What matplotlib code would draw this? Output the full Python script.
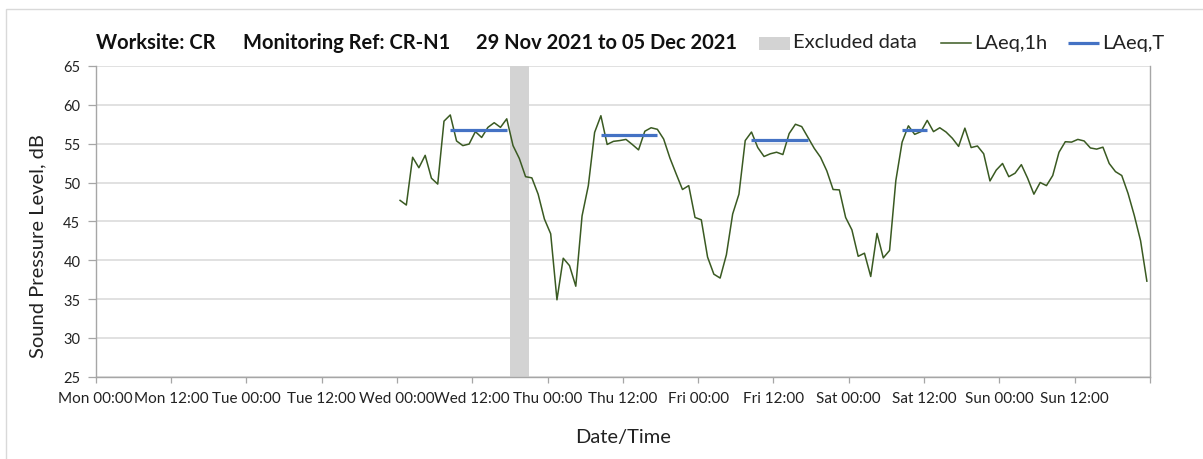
import matplotlib
matplotlib.use("Agg")
import matplotlib.pyplot as plt
import matplotlib.dates as mdates
import pandas as pd
from matplotlib.patches import Rectangle
from matplotlib.lines import Line2D

plt.rcParams['font.family'] = ['Lato', 'DejaVu Sans']

# Hourly LAeq,1h readings (dB), first reading at 01 Dec 2021 00:30
first_reading = "2021-12-01 00:30"
laeq_1h = [
    47.7, 47.1, 53.25, 51.9, 53.5, 50.55, 49.8, 57.9, 58.7, 55.35,
    54.75, 54.95, 56.55, 55.8, 57.1, 57.7, 57.1, 58.2, 54.75, 53.1,
    50.75, 50.6, 48.5, 45.3, 43.4, 34.9, 40.25, 39.3, 36.65, 45.7,
    49.6, 56.45, 58.6, 54.9, 55.3, 55.4, 55.55, 54.9, 54.2, 56.6,
    57.05, 56.85, 55.6, 53.15, 51.1, 49.1, 49.6, 45.5, 45.2, 40.4,
    38.2, 37.7, 40.7, 45.95, 48.5, 55.4, 56.5, 54.5, 53.35, 53.7,
    53.9, 53.6, 56.3, 57.5, 57.2, 55.8, 54.4, 53.25, 51.5, 49.1,
    49.05, 45.5, 43.9, 40.5, 40.9, 37.9, 43.45, 40.3, 41.25, 50.25,
    55.2, 57.3, 56.2, 56.55, 58.0, 56.55, 57.05, 56.5, 55.7, 54.65,
    57.0, 54.5, 54.7, 53.7, 50.2, 51.6, 52.45, 50.75, 51.2, 52.3,
    50.55, 48.5, 50.0, 49.6, 50.9, 53.9, 55.25, 55.2, 55.55, 55.35,
    54.45, 54.3, 54.55, 52.45, 51.4, 50.9, 48.6, 45.75, 42.5, 37.3,
]

# LAeq,T over the working periods
laeq_t_start = ["2021-12-01 08:30", "2021-12-02 08:30", "2021-12-03 08:30", "2021-12-04 08:30"]
laeq_t_end = ["2021-12-01 17:30", "2021-12-02 17:30", "2021-12-03 17:30", "2021-12-04 12:30"]
laeq_t = [56.8, 56.1, 55.5, 56.7]

# Excluded data window
excluded_start = "2021-12-01 18:00"
excluded_end = "2021-12-01 21:00"

# Axis ranges and labels
period_start = "2021-11-29 00:00"
period_end = "2021-12-06 00:00"
tick_labels = ["Mon 00:00", "Mon 12:00", "Tue 00:00", "Tue 12:00", "Wed 00:00",
               "Wed 12:00", "Thu 00:00", "Thu 12:00", "Fri 00:00", "Fri 12:00",
               "Sat 00:00", "Sat 12:00", "Sun 00:00", "Sun 12:00", ""]
y_min, y_max, y_step = 25, 65, 5

title_parts = ["Worksite: CR", "Monitoring Ref: CR-N1", "29 Nov 2021 to 05 Dec 2021"]

GREEN = "#3a5a22"
BLUE = "#4472c4"
GREY_BAND = "#d3d3d3"
GRID = "#d9d9d9"
AXIS = "#a6a6a6"

W, H = 1203, 460
fig = plt.figure(figsize=(W / 100, H / 100), dpi=100)


def fx(px):
    return px / W


def fy(py):
    return 1 - py / H


ax = fig.add_axes([fx(95.7), fy(377.7), fx(1150) - fx(95.7), fy(67) - fy(377.7)])

times = pd.date_range(first_reading, periods=len(laeq_1h), freq="h")
ax.plot(times, laeq_1h, color=GREEN, lw=1.1, zorder=3)

for s, e, v in zip(laeq_t_start, laeq_t_end, laeq_t):
    ax.plot([pd.Timestamp(s), pd.Timestamp(e)], [v, v], color=BLUE, lw=2.3,
            solid_capstyle="butt", zorder=4)

ax.axvspan(pd.Timestamp(excluded_start), pd.Timestamp(excluded_end),
           color=GREY_BAND, lw=0, zorder=2)

ax.set_xlim(pd.Timestamp(period_start), pd.Timestamp(period_end))
ax.set_ylim(y_min, y_max)

tick_pos = pd.date_range(period_start, period_end, freq="12h")
ax.set_xticks(tick_pos)
ax.set_xticklabels(tick_labels)
ax.xaxis.set_minor_locator(mdates.DayLocator())
ax.set_yticks(range(y_min, y_max + 1, y_step))

ax.grid(which="minor", axis="x", color=GRID, lw=1.1, zorder=0)
ax.grid(which="major", axis="y", color=GRID, lw=1.1, zorder=0)
ax.grid(which="major", axis="x", visible=False)
ax.set_axisbelow(True)

ax.tick_params(axis="x", which="major", length=4.3, width=0.9, color=AXIS,
               labelsize=11, pad=6, labelcolor="#222222")
ax.tick_params(axis="x", which="minor", length=0)
ax.tick_params(axis="y", length=6, width=0.9, color=AXIS, labelsize=10.5,
               pad=5, labelcolor="#222222")

for side in ("left", "bottom", "right"):
    ax.spines[side].set_color(AXIS)
    ax.spines[side].set_linewidth(1.0)
ax.spines["top"].set_visible(False)

ax.set_ylabel("Sound Pressure Level, dB", fontsize=14.5, color="#222222")
ax.yaxis.set_label_coords((37.5 - 95.7) / (1150 - 95.7), (377.7 - 246) / (377.7 - 67))
ax.yaxis.label.set_va("center")

ax.set_xlabel("Date/Time", fontsize=14.5, color="#222222")
ax.xaxis.set_label_coords(0.5, (377.7 - 437) / (377.7 - 67))
ax.xaxis.label.set_va("center")

# Chart area frame
fig.add_artist(Rectangle((fx(5.5), fy(470)), fx(1215) - fx(5.5), fy(10) - fy(470),
                         transform=fig.transFigure, fill=False, ec=GRID, lw=1.0))

# Header line: title pieces
for x_px, txt in zip([96, 243, 476], title_parts):
    fig.text(fx(x_px), fy(43), txt, fontsize=14.5, fontweight="bold",
             ha="left", va="center", color="#111111")

# Legend
fig.add_artist(Rectangle((fx(759), fy(51)), fx(790) - fx(759), fy(38) - fy(51),
                         transform=fig.transFigure, color=GREY_BAND, lw=0))
fig.text(fx(793), fy(43), "Excluded data", fontsize=14.5, ha="left", va="center", color="#222222")
fig.add_artist(Line2D([fx(941), fx(971)], [fy(44), fy(44)], transform=fig.transFigure,
                      color=GREEN, lw=1.1))
fig.text(fx(974), fy(43), "LAeq,1h", fontsize=14.5, ha="left", va="center", color="#222222")
fig.add_artist(Line2D([fx(1068), fx(1099)], [fy(44), fy(44)], transform=fig.transFigure,
                      color=BLUE, lw=2.3, solid_capstyle="butt"))
fig.text(fx(1102), fy(43), "LAeq,T", fontsize=14.5, ha="left", va="center", color="#222222")

fig.savefig("out.png", dpi=100)
